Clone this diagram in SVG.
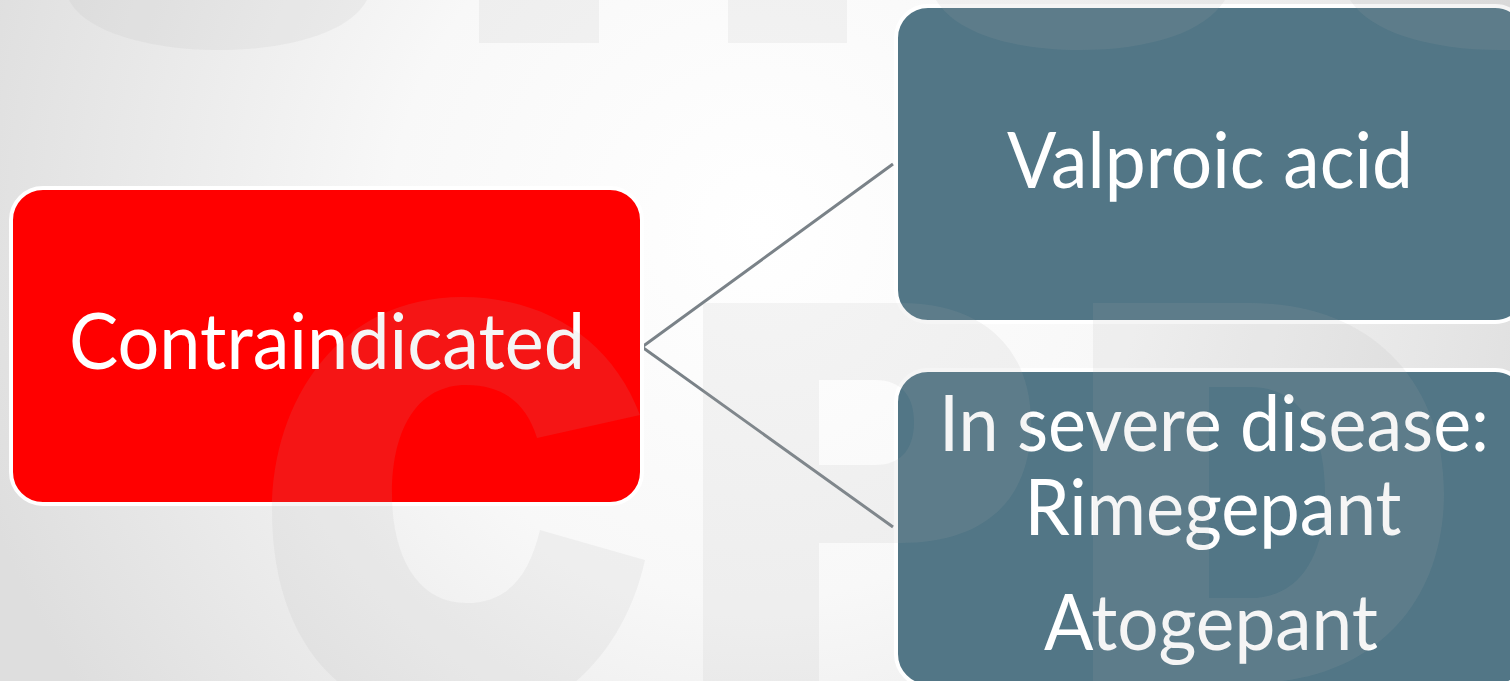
<svg xmlns="http://www.w3.org/2000/svg" width="1510" height="681" viewBox="0 0 1510 681">
  <defs>
    <radialGradient id="bg" cx="760" cy="230" r="820" gradientUnits="userSpaceOnUse">
      <stop offset="0" stop-color="#ffffff"/>
      <stop offset="0.45" stop-color="#f8f8f8"/>
      <stop offset="1" stop-color="#dedede"/>
    </radialGradient>
    <style>
      .box-red { fill: #ff0000; stroke: #ffffff; stroke-width: 4; }
      .box-teal { fill: #527686; stroke: #ffffff; stroke-width: 4; }
      .lbl { font-family: Lato, "Open Sans", "Liberation Sans", sans-serif; font-size: 77px; fill: #ffffff; text-anchor: middle; }
      .conn { stroke: #7a8288; stroke-width: 3; fill: none; }
      .wm { fill: #b0b0b0; fill-opacity: 0.12; fill-rule: evenodd; }
    </style>
  </defs>

  <rect id="background" x="0" y="0" width="1510" height="681" fill="url(#bg)"/>

  <g id="connectors">
    <path class="conn" d="M 893 164 L 642 347 L 893 527"/>
  </g>

  <g id="node-contraindicated">
    <rect class="box-red" x="11" y="188" width="631" height="316" rx="32" ry="32"/>
    <text class="lbl" x="327" y="369" textLength="516" lengthAdjust="spacingAndGlyphs">Contraindicated</text>
  </g>

  <g id="node-valproic">
    <rect class="box-teal" x="896" y="6" width="631" height="316" rx="32" ry="32"/>
    <text class="lbl" x="1210" y="188" textLength="406" lengthAdjust="spacingAndGlyphs">Valproic acid</text>
  </g>

  <g id="node-severe">
    <rect class="box-teal" x="896" y="370" width="631" height="316" rx="32" ry="32"/>
    <text class="lbl" x="1214" y="451" textLength="550" lengthAdjust="spacingAndGlyphs">In severe disease:</text>
    <text class="lbl" x="1213" y="535" textLength="377" lengthAdjust="spacingAndGlyphs">Rimegepant</text>
    <text class="lbl" x="1211" y="650" textLength="334" lengthAdjust="spacingAndGlyphs">Atogepant</text>
  </g>

  <g id="watermark">
    <path class="wm" d="M 69 0 C 85 32 150 50 218 50 C 290 50 350 32 367 0 Z"/>
    <rect class="wm" x="479" y="0" width="120" height="43"/>
    <rect class="wm" x="728" y="0" width="119" height="43"/>
    <path class="wm" d="M 936 0 C 955 32 1010 50 1080 50 C 1150 50 1205 32 1225 0 Z"/>
    <path class="wm" d="M 1350 0 C 1370 32 1430 50 1500 50 C 1570 50 1630 32 1650 0 Z"/>
    <path class="wm" d="M 640 415 C 612 340 545 297 462 297 C 340 297 272 400 272 510 C 272 640 340 723 462 723 C 560 723 625 650 645 560 L 540 530 C 528 580 505 603 466 603 C 420 603 392 560 392 494 C 392 425 420 385 466 385 C 505 385 527 405 537 438 Z"/>
    <path class="wm" d="M 703 303 L 900 303 C 985 303 1031 350 1031 423 C 1031 500 985 543 900 543 L 819 543 L 819 700 L 703 700 Z M 819 380 L 875 380 C 903 380 914 398 914 422 C 914 447 903 465 875 465 L 819 465 Z"/>
    <path class="wm" d="M 1093 303 L 1250 303 C 1370 303 1444 380 1444 493 C 1444 606 1370 683 1250 683 L 1093 683 Z M 1209 387 L 1250 387 C 1300 387 1325 430 1325 493 C 1325 556 1300 598 1250 598 L 1209 598 Z"/>
  </g>
</svg>
